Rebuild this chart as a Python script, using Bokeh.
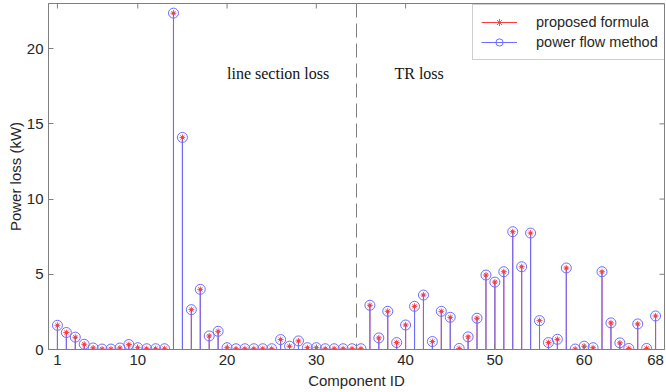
import math
from bokeh.plotting import figure
from bokeh.models import (Range1d, FixedTicker, Span, Legend,
                          LegendItem, ColumnDataSource)
from bokeh.core.properties import value
from bokeh.embed import file_html
from bokeh.resources import INLINE

# ---------------- data ----------------
component_id = list(range(1, 69))
proposed_formula = [1.61, 1.13, 0.82, 0.35, 0.10, 0.03, 0.03, 0.10, 0.33, 0.12,
                    0.05, 0.05, 0.05, 22.36, 14.10, 2.65, 4.00, 0.90, 1.21, 0.12,
                    0.05, 0.05, 0.05, 0.05, 0.05, 0.66, 0.22, 0.57, 0.12, 0.12,
                    0.05, 0.05, 0.05, 0.05, 0.05, 2.94, 0.77, 2.54, 0.46, 1.63,
                    2.87, 3.62, 0.53, 2.54, 2.14, 0.07, 0.84, 2.08, 4.95, 4.48,
                    5.17, 7.83, 5.50, 7.74, 1.92, 0.46, 0.68, 5.42, 0.03, 0.22,
                    0.12, 5.17, 1.77, 0.44, 0.07, 1.70, 0.07, 2.23]
power_flow_method = [1.61, 1.13, 0.82, 0.35, 0.10, 0.03, 0.03, 0.10, 0.33, 0.12,
                     0.05, 0.05, 0.05, 22.36, 14.10, 2.65, 4.00, 0.90, 1.21, 0.12,
                     0.05, 0.05, 0.05, 0.05, 0.05, 0.66, 0.22, 0.57, 0.12, 0.12,
                     0.05, 0.05, 0.05, 0.05, 0.05, 2.94, 0.77, 2.54, 0.46, 1.63,
                     2.87, 3.62, 0.53, 2.54, 2.14, 0.07, 0.84, 2.08, 4.95, 4.48,
                     5.17, 7.83, 5.50, 7.74, 1.92, 0.46, 0.68, 5.42, 0.03, 0.22,
                     0.12, 5.17, 1.77, 0.44, 0.07, 1.70, 0.07, 2.23]
x_ticks = [1, 10, 20, 30, 40, 50, 60, 68]
y_ticks = [0, 5, 10, 15, 20]
x_limits = (0, 69)
y_limits = (0, 23)
divider_x = 34.5
region_labels = ["line section loss", "TR loss"]
region_label_x = [20.0, 38.75]
region_label_y = [18.35, 18.35]
series_labels = ["proposed formula", "power flow method"]

# ---------------- style ----------------
SANS = "Liberation Sans"
SERIF = "Liberation Serif"
AX = "#7f7f7f"
TXT = "#262626"
RED = "#ff3c3c"
BLUE = "#6c6cff"

p = figure(width=666, height=392,
           x_range=Range1d(*x_limits), y_range=Range1d(*y_limits),
           output_backend="svg", toolbar_location=None,
           min_border_left=48, min_border_right=2,
           min_border_top=3, min_border_bottom=43)
p.background_fill_color = "white"
p.border_fill_color = "white"
p.outline_line_color = AX
p.outline_line_alpha = 1.0
p.xgrid.visible = False
p.ygrid.visible = False

p.xaxis.ticker = FixedTicker(ticks=x_ticks, minor_ticks=[])
p.yaxis.ticker = FixedTicker(ticks=y_ticks, minor_ticks=[])
p.xaxis.axis_label = "Component ID"
p.yaxis.axis_label = "Power loss (kW)"

for ax in [p.xaxis[0], p.yaxis[0]]:
    ax.major_tick_in = 5
    ax.major_tick_out = 0
    ax.minor_tick_in = 0
    ax.minor_tick_out = 0
    ax.axis_line_color = AX
    ax.major_tick_line_color = AX
    ax.major_label_text_font = SANS
    ax.major_label_text_font_size = "15px"
    ax.major_label_text_color = TXT
    ax.axis_label_text_font = SANS
    ax.axis_label_text_font_size = "15px"
    ax.axis_label_text_font_style = "normal"
    ax.axis_label_text_color = TXT
p.xaxis.major_label_standoff = 5
p.xaxis.axis_label_standoff = 4
p.yaxis.major_label_standoff = 5
p.yaxis.axis_label_standoff = 0

# mirrored tick marks on top and right edges (screen-length rays)
p.ray(x=x_ticks, y=[y_limits[1]] * len(x_ticks), length=5, length_units="screen",
      angle=-math.pi / 2, line_color=AX, line_width=1)
p.ray(x=[x_limits[1]] * len(y_ticks), y=y_ticks, length=5, length_units="screen",
      angle=math.pi, line_color=AX, line_width=1)

# ---------------- glyphs ----------------
src = ColumnDataSource(dict(x=component_id, pr=proposed_formula, pf=power_flow_method))

red_stem = p.segment(x0="x", y0=0, x1="x", y1="pr", source=src,
                     line_color=RED, line_width=1)
blue_stem = p.segment(x0="x", y0=0, x1="x", y1="pf", source=src,
                      line_color=BLUE, line_width=1.1)
blue_circle = p.scatter("x", "pf", source=src, marker="circle", size=10,
                        fill_color=None, line_color=BLUE, line_width=1)
blue_dot = p.scatter("x", "pf", source=src, marker="circle", size=3,
                     fill_color="#5050ff", line_color=None)
red_star = p.scatter("x", "pr", source=src, marker="asterisk", size=6,
                     line_color=RED, line_width=0.9)

divider = Span(location=divider_x, dimension="height", line_color=AX,
               line_dash="14 6", line_width=1)
p.add_layout(divider)

p.text(x=region_label_x, y=region_label_y, text=region_labels,
       text_font=value(SERIF), text_font_size="16px",
       text_baseline="middle", text_align="left", text_color="#111111")

legend = Legend(items=[
    LegendItem(label=series_labels[0], renderers=[red_stem, red_star]),
    LegendItem(label=series_labels[1], renderers=[blue_stem, blue_circle]),
], location=(424, 289))
legend.margin = 0
legend.padding = 8
legend.spacing = 2
legend.glyph_width = 36
legend.glyph_height = 18
legend.label_height = 18
legend.label_standoff = 19
legend.label_text_font = SANS
legend.label_text_font_size = "14.5px"
legend.label_text_color = TXT
legend.border_line_color = "#a0a0a0"
legend.background_fill_color = "white"
legend.background_fill_alpha = 1.0
p.add_layout(legend)

open("out.html", "w").write(file_html(p, INLINE))
